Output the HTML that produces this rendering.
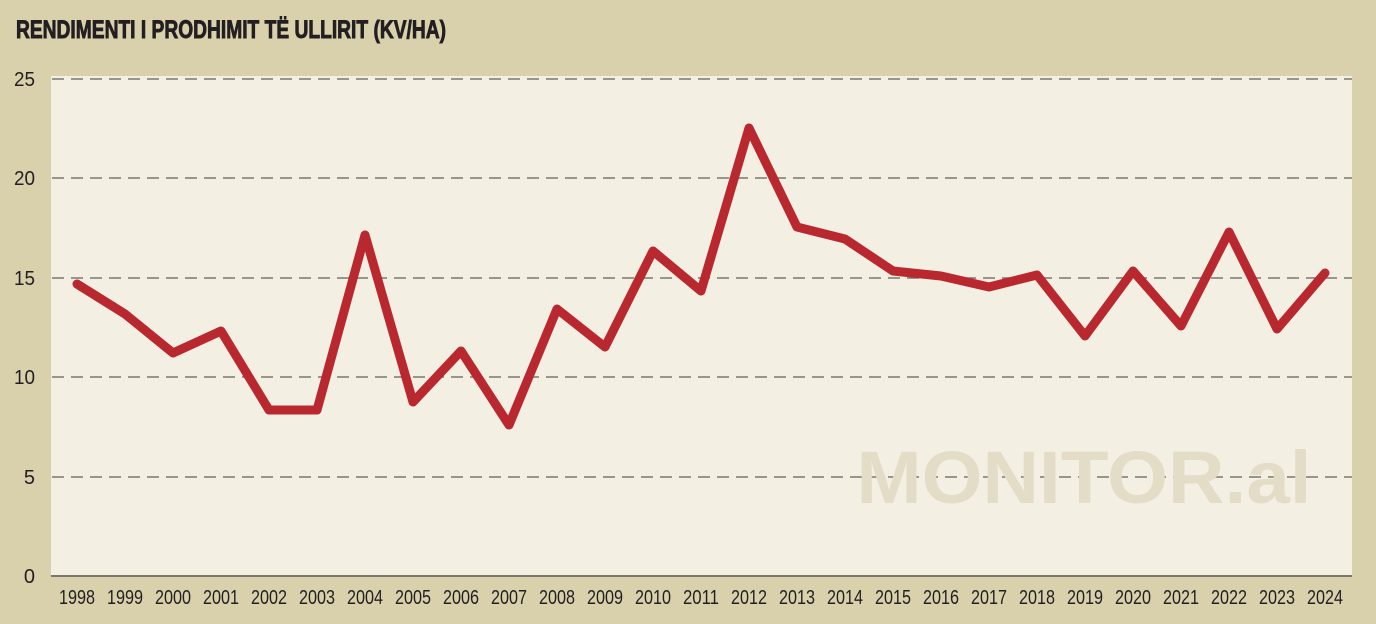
<!DOCTYPE html>
<html><head><meta charset="utf-8"><style>
html,body{margin:0;padding:0;background:#d9d0ac;}
svg{display:block;}
</style></head><body>
<svg width="1376" height="624" viewBox="0 0 1376 624" xmlns="http://www.w3.org/2000/svg">
<rect width="1376" height="624" fill="#d9d0ac"/>
<text x="16" y="38" font-family="'Liberation Sans Narrow','Liberation Sans',sans-serif" font-weight="bold" font-size="25" fill="#231f20" stroke="#231f20" stroke-width="0.9" textLength="430" lengthAdjust="spacingAndGlyphs">RENDIMENTI I PRODHIMIT TË ULLIRIT (KV/HA)</text>
<rect x="51" y="76" width="1301" height="500" fill="#f3f0e3"/>
<g stroke="#7a776f" stroke-width="1.6" stroke-dasharray="12,7">
<line x1="52" y1="79" x2="1352" y2="79"/>
<line x1="52" y1="178" x2="1352" y2="178"/>
<line x1="52" y1="278" x2="1352" y2="278"/>
<line x1="52" y1="377" x2="1352" y2="377"/>
<line x1="52" y1="477" x2="1352" y2="477"/>
</g>
<line x1="51" y1="576" x2="1352" y2="576" stroke="#7a776f" stroke-width="2"/>
<text x="1084" y="503" text-anchor="middle" font-family="'Liberation Sans',sans-serif" font-weight="bold" font-size="74" fill="#e3dcc7" textLength="455" lengthAdjust="spacingAndGlyphs">MONITOR.al</text>
<g font-family="'Liberation Sans Narrow','Liberation Sans',sans-serif" font-size="20" fill="#231f20" text-anchor="end">
<text x="35" y="86" textLength="21" lengthAdjust="spacingAndGlyphs">25</text>
<text x="35" y="185" textLength="21" lengthAdjust="spacingAndGlyphs">20</text>
<text x="35" y="285" textLength="21" lengthAdjust="spacingAndGlyphs">15</text>
<text x="35" y="384" textLength="21" lengthAdjust="spacingAndGlyphs">10</text>
<text x="35" y="484">5</text>
<text x="35" y="583">0</text>
</g>
<g font-family="'Liberation Sans Narrow','Liberation Sans',sans-serif" font-size="20" fill="#231f20" text-anchor="middle">
<text x="77" y="604" textLength="36" lengthAdjust="spacingAndGlyphs">1998</text><text x="125" y="604" textLength="36" lengthAdjust="spacingAndGlyphs">1999</text><text x="173" y="604" textLength="36" lengthAdjust="spacingAndGlyphs">2000</text><text x="221" y="604" textLength="36" lengthAdjust="spacingAndGlyphs">2001</text><text x="269" y="604" textLength="36" lengthAdjust="spacingAndGlyphs">2002</text><text x="317" y="604" textLength="36" lengthAdjust="spacingAndGlyphs">2003</text><text x="365" y="604" textLength="36" lengthAdjust="spacingAndGlyphs">2004</text><text x="413" y="604" textLength="36" lengthAdjust="spacingAndGlyphs">2005</text><text x="461" y="604" textLength="36" lengthAdjust="spacingAndGlyphs">2006</text><text x="509" y="604" textLength="36" lengthAdjust="spacingAndGlyphs">2007</text><text x="557" y="604" textLength="36" lengthAdjust="spacingAndGlyphs">2008</text><text x="605" y="604" textLength="36" lengthAdjust="spacingAndGlyphs">2009</text><text x="653" y="604" textLength="36" lengthAdjust="spacingAndGlyphs">2010</text><text x="701" y="604" textLength="36" lengthAdjust="spacingAndGlyphs">2011</text><text x="749" y="604" textLength="36" lengthAdjust="spacingAndGlyphs">2012</text><text x="797" y="604" textLength="36" lengthAdjust="spacingAndGlyphs">2013</text><text x="845" y="604" textLength="36" lengthAdjust="spacingAndGlyphs">2014</text><text x="893" y="604" textLength="36" lengthAdjust="spacingAndGlyphs">2015</text><text x="941" y="604" textLength="36" lengthAdjust="spacingAndGlyphs">2016</text><text x="989" y="604" textLength="36" lengthAdjust="spacingAndGlyphs">2017</text><text x="1037" y="604" textLength="36" lengthAdjust="spacingAndGlyphs">2018</text><text x="1085" y="604" textLength="36" lengthAdjust="spacingAndGlyphs">2019</text><text x="1133" y="604" textLength="36" lengthAdjust="spacingAndGlyphs">2020</text><text x="1181" y="604" textLength="36" lengthAdjust="spacingAndGlyphs">2021</text><text x="1229" y="604" textLength="36" lengthAdjust="spacingAndGlyphs">2022</text><text x="1277" y="604" textLength="36" lengthAdjust="spacingAndGlyphs">2023</text><text x="1325" y="604" textLength="36" lengthAdjust="spacingAndGlyphs">2024</text>
</g>
<polyline fill="none" stroke="#b9282f" stroke-width="9" stroke-linejoin="round" stroke-linecap="round"
points="77,284 125,314 173,353 221,331 269,410 317,410 365,235 413,402 461,351 509,425 557,309 605,347 653,251 701,291 749,128 797,227 845,239 893,271 941,276 989,287 1037,275 1085,336 1133,271 1181,326 1229,232 1277,329 1325,273"/>
</svg>
</body></html>
